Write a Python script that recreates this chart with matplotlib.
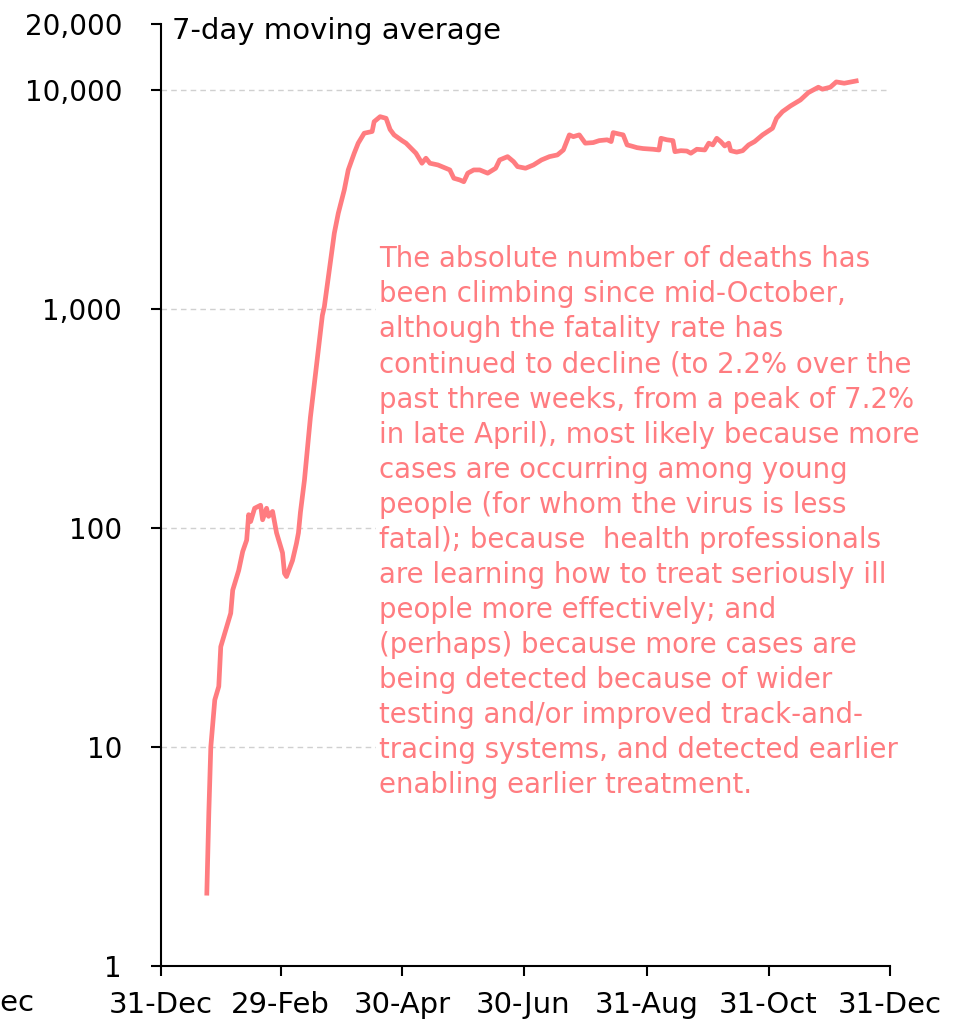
import numpy as np
import matplotlib.pyplot as plt
import matplotlib.dates as mdates
from matplotlib.ticker import FixedLocator, FixedFormatter

# days after 31-Dec-2019 and 7-day moving average of deaths
day = [23, 24, 25, 27, 29, 30, 31, 35, 36, 39, 41, 43, 44, 45, 47, 50, 51, 53, 54, 56,
       58, 61, 62, 63, 66, 68, 69, 70, 72, 75, 78, 81, 82, 87, 89, 92, 94, 97, 99, 102,
       106, 107, 110, 113, 115, 117, 121, 123, 128, 131, 133, 135, 139, 143, 145, 147, 150, 152, 154, 157,
       160, 164, 168, 170, 174, 177, 179, 183, 187, 191, 195, 199, 202, 205, 207, 210, 213, 217, 220, 224,
       226, 227, 230, 232, 234, 236, 239, 242, 247, 250, 251, 254, 257, 258, 261, 264, 266, 269, 273, 275,
       277, 279, 281, 283, 285, 286, 289, 292, 295, 298, 302, 307, 308, 309, 312, 316, 321, 325, 330, 332,
       336, 339, 343, 349]
deaths = [2.15, 5.0, 10.0, 16.4, 18.9, 28.7, 30.8, 40.8, 52, 64, 78, 88, 115, 107, 123, 127, 109, 123, 113, 119,
          95, 77, 62, 60, 71, 85, 95, 118, 165, 320, 546, 934, 1025, 2217, 2735, 3493, 4313, 5140, 5714, 6344,
          6460, 7165, 7550, 7420, 6600, 6235, 5870, 5714, 5140, 4628, 4878, 4628, 4545, 4390, 4313, 3953, 3881, 3810, 4168, 4313,
          4313, 4168, 4390, 4790, 4960, 4705, 4466, 4390, 4545, 4790, 4960, 5050, 5320, 6235, 6120, 6235, 5714, 5750, 5870, 5920,
          5810, 6385, 6290, 6235, 5610, 5550, 5450, 5400, 5360, 5320, 6015, 5920, 5870, 5226, 5280, 5260, 5140, 5360, 5320, 5714,
          5610, 6015, 5810, 5550, 5714, 5280, 5200, 5280, 5610, 5810, 6235, 6685, 7045, 7420, 7960, 8450, 9000, 9725, 10290, 10080,
          10290, 10880, 10730, 10990]

xtick_dates = ['2019-12-31', '2020-02-29', '2020-04-30', '2020-06-30', '2020-08-31', '2020-10-31', '2020-12-31']
yticks = [1, 10, 100, 1000, 10000, 20000]
ytick_labels = ['1', '10', '100', '1,000', '10,000', '20,000']

note = ("The absolute number of deaths has\n"
        "been climbing since mid-October,\n"
        "although the fatality rate has\n"
        "continued to decline (to 2.2% over the\n"
        "past three weeks, from a peak of 7.2%\n"
        "in late April), most likely because more\n"
        "cases are occurring among young\n"
        "people (for whom the virus is less\n"
        "fatal); because  health professionals\n"
        "are learning how to treat seriously ill\n"
        "people more effectively; and\n"
        "(perhaps) because more cases are\n"
        "being detected because of wider\n"
        "testing and/or improved track-and-\n"
        "tracing systems, and detected earlier\n"
        "enabling earlier treatment.")

line_col = '#FF7C80'
plt.rcParams['font.family'] = 'DejaVu Sans'

dates = np.datetime64('2019-12-31') + np.array(day).astype('timedelta64[D]')

fig = plt.figure(figsize=(9.77, 10.26), dpi=100)
ax = fig.add_axes([0.1648, 0.0585, 0.911 - 0.1648, 0.9766 - 0.0585])

for v in [10, 100, 1000, 10000]:
    ax.axhline(v, color='#d0d0d0', lw=1, ls=(0, (4, 3)), zorder=0)

ax.plot(dates, deaths, color=line_col, lw=3.4, solid_joinstyle='round', zorder=3)

ax.set_yscale('log')
ax.set_ylim(1, 20000)
ax.yaxis.set_major_locator(FixedLocator(yticks))
ax.yaxis.set_major_formatter(FixedFormatter(ytick_labels))
ax.yaxis.set_minor_locator(FixedLocator([]))

xt = [np.datetime64(d) for d in xtick_dates]
ax.set_xlim(xt[0], xt[-1])
ax.set_xticks(xt)
ax.xaxis.set_major_formatter(mdates.DateFormatter('%d-%b'))

for s in ['top', 'right']:
    ax.spines[s].set_visible(False)
for s in ['left', 'bottom']:
    ax.spines[s].set_linewidth(1.5)
ax.tick_params(axis='y', direction='out', length=7, width=1.5, pad=21, labelsize=20)
ax.tick_params(axis='x', direction='out', length=7, width=1.5, pad=11, labelsize=21)

ax.text(0.015, 0.993, '7-day moving average', transform=ax.transAxes, fontsize=21,
        ha='left', va='center')
fig.text(35 / 977, 1 - 1003 / 1026, '31-Dec', fontsize=21, ha='right', va='center')

ax.text(0.299, 0.765, note, transform=ax.transAxes, fontsize=19.9, color=line_col,
        ha='left', va='top', linespacing=1.32, zorder=4,
        bbox=dict(facecolor='white', edgecolor='none', pad=2))

plt.savefig('out.png', dpi=100)
